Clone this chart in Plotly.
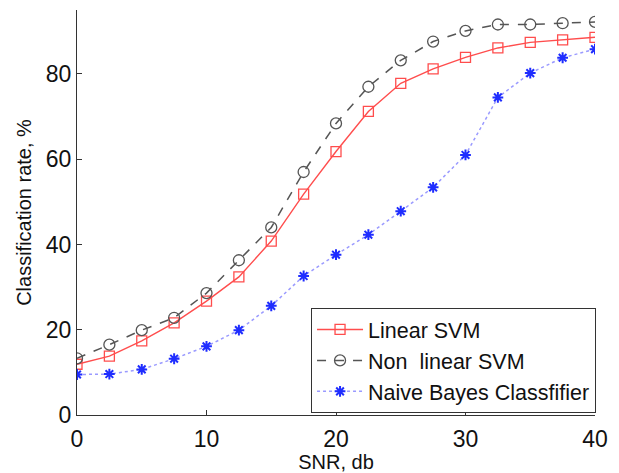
import plotly.graph_objects as go

snr = [0, 2.5, 5, 7.5, 10, 12.5, 15, 17.5, 20, 22.5, 25, 27.5, 30, 32.5, 35, 37.5, 40]
linear_svm = [11.9, 13.8, 17.4, 21.6, 26.7, 32.4, 40.8, 51.8, 61.8, 71.2, 77.8, 81.2, 83.9, 86.1, 87.4, 88.0, 88.6]
nonlinear_svm = [13.3, 16.5, 19.9, 22.8, 28.6, 36.3, 44.0, 57.0, 68.4, 77.0, 83.2, 87.6, 90.1, 91.6, 91.6, 91.9, 92.2]
naive_bayes = [9.5, 9.6, 10.7, 13.2, 16.1, 19.9, 25.6, 32.6, 37.6, 42.3, 47.8, 53.4, 61.0, 74.5, 80.2, 83.8, 85.8]

x_ticks = [0, 10, 20, 30, 40]
y_ticks = [0, 20, 40, 60, 80]

FONT = "Liberation Sans, Arial, Helvetica, sans-serif"

fig = go.Figure()
fig.add_trace(go.Scatter(
    x=snr, y=linear_svm, name="Linear SVM", mode="lines+markers",
    line=dict(color="#ff4d4d", width=1.4),
    marker=dict(symbol="square-open", size=10, color="#ff4d4d", line=dict(width=1.3)),
))
fig.add_trace(go.Scatter(
    x=snr, y=nonlinear_svm, name="Non\u00a0 linear SVM", mode="lines+markers",
    line=dict(color="#555555", width=1.5, dash="dash"),
    marker=dict(symbol="circle-open", size=11, color="#555555", line=dict(width=1.3)),
))
fig.add_trace(go.Scatter(
    x=snr, y=naive_bayes, name="Naive Bayes Classfifier", mode="lines+markers",
    line=dict(color="#9a9aff", width=1.5, dash="dot"),
    marker=dict(symbol="asterisk-open", size=9, color="#1f2dff", line=dict(width=2, color="#1f2dff")),
))

# page body has an 8px default margin, so the figure is sized to fit the window
fig.update_layout(
    width=611, height=465,
    margin=dict(l=69, r=24, t=2, b=58),
    paper_bgcolor="white", plot_bgcolor="white",
    font=dict(family=FONT, size=21, color="#111111"),
    showlegend=True,
    legend=dict(
        x=1.002, y=0.005, xanchor="right", yanchor="bottom",
        bgcolor="white", bordercolor="#333333", borderwidth=1,
        font=dict(family=FONT, size=21.5, color="#111111"),
        tracegroupgap=0, itemwidth=46,
    ),
    xaxis=dict(
        range=[0, 40], tickvals=x_ticks, ticktext=[str(v) for v in x_ticks],
        showgrid=False, zeroline=False, showline=True, linecolor="#333333", linewidth=1,
        ticks="inside", ticklen=5, tickcolor="#333333", automargin=False,
        title=dict(text="SNR, db", font=dict(size=20), standoff=0),
        tickfont=dict(size=23), ticklabelstandoff=3,
    ),
    yaxis=dict(
        range=[0, 95], tickvals=y_ticks, ticktext=[str(v) for v in y_ticks],
        showgrid=False, zeroline=False, showline=True, linecolor="#333333", linewidth=1,
        ticks="inside", ticklen=5, tickcolor="#333333", automargin=False,
        title=dict(text="Classification rate, %", font=dict(size=20), standoff=8),
        tickfont=dict(size=23), ticklabelstandoff=0,
    ),
)

fig.write_html("out.html")
